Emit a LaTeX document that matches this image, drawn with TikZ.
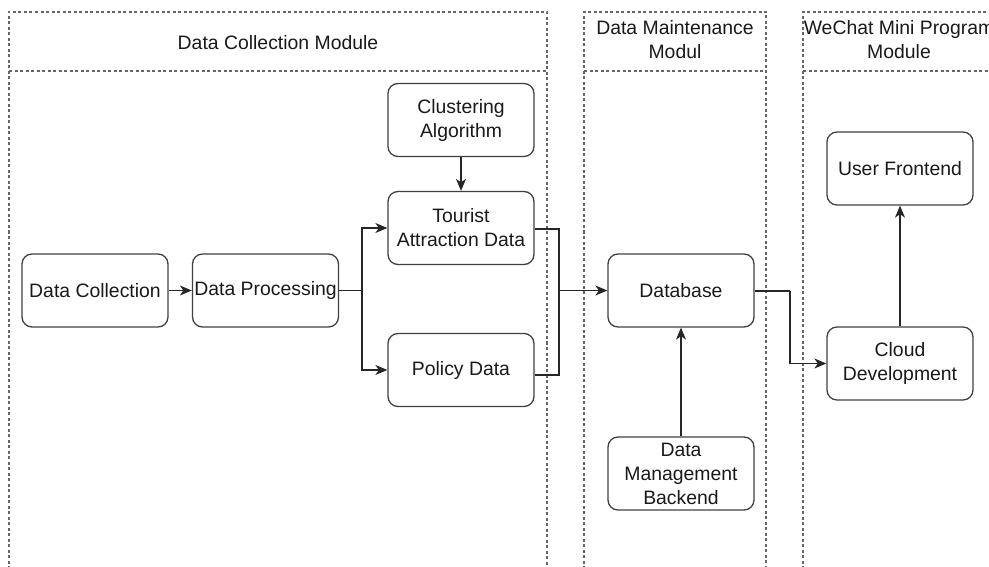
\documentclass[tikz,border=0pt]{standalone}
\usepackage{fontspec}
\setmainfont{Liberation Sans}
\usetikzlibrary{arrows.meta,positioning}
\begin{document}
\begin{tikzpicture}[x=1pt,y=-1pt,
  box/.style={draw=black!75,line width=1.3pt,rounded corners=10pt,minimum width=146pt,minimum height=73pt,align=center,inner sep=1pt,font=\fontsize{19.4}{24}\selectfont,text=black!90},
  lane/.style={draw=black!60,line width=1.2pt,dash pattern=on 3pt off 2.5pt},
  hdr/.style={align=center,font=\fontsize{19.4}{24}\selectfont,text=black!90},
  conn/.style={draw=black!85,line width=1.3pt},
  arr/.style={conn,-{Stealth[length=12pt,width=10pt,inset=3.5pt]}}]
\clip (0,0) rectangle (989,567);
\useasboundingbox (0,0) rectangle (989,567);
% lanes
\draw[lane] (9,580) -- (9,12) -- (547,12) -- (547,580);
\draw[lane] (9,71) -- (547,71);
\draw[lane] (584,580) -- (584,12) -- (766,12) -- (766,580);
\draw[lane] (584,71) -- (766,71);
\draw[lane] (803,580) -- (803,12) -- (1000,12);
\draw[lane] (803,71) -- (1000,71);
\node[hdr] (h1) at (278,43) {Data Collection Module};
\node[hdr] (h2) at (675,40) {Data Maintenance\\Modul};
\node[hdr] (h3) at (899,40) {WeChat Mini Program\\Module};
% nodes
\node[box] (dc) at (95,290.5) {Data Collection};
\node[box] (dp) at (265.5,290.5) {Data Processing};
\node[box] (ca) at (461,120) {Clustering\\Algorithm};
\node[box] (ta) at (461,228) {Tourist\\Attraction Data};
\node[box] (pd) at (461,370) {Policy Data};
\node[box] (db) at (681,290.5) {Database};
\node[box] (dm) at (681,473.5) {Data\\Management\\Backend};
\node[box] (uf) at (900,168.5) {User Frontend};
\node[box] (cd) at (900,363.5) {Cloud\\Development};
% connectors
\coordinate (j1) at (362,290.5);
\coordinate (j2) at (559,290.5);
\coordinate (j3) at (790,291);
\draw[arr] (dc) -- (dp);
\draw[conn] (dp.east) -- (j1);
\draw[arr] (j1) |- (ta.west);
\draw[arr] (j1) |- (pd.west);
\draw[arr] (ca) -- (ta);
\draw[conn] (ta.east |- 0,229) -| (j2);
\draw[conn] (pd.east |- 0,375) -| (j2);
\draw[arr] (j2) -- (db.west);
\draw[conn] (db.east |- j3) -- (j3);
\draw[arr] (j3) |- (cd.west);
\draw[arr] (cd) -- (uf);
\draw[arr] (dm) -- (db);
\end{tikzpicture}
\end{document}
